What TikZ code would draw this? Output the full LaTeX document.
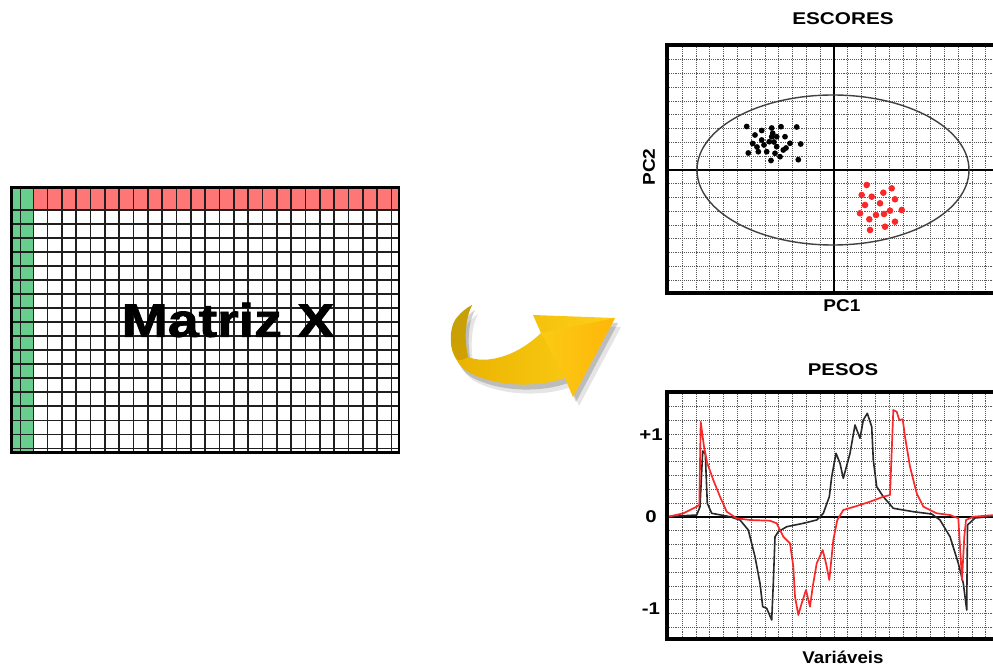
\documentclass[tikz,border=0pt]{standalone}
\usepackage{graphicx}
\usepackage{fontspec}
\setmainfont{Liberation Sans}
\definecolor{mgreen}{RGB}{104,206,142}
\definecolor{mred}{RGB}{255,118,118}
\definecolor{arrL}{RGB}{232,178,0}
\definecolor{arrR}{RGB}{255,208,24}
\definecolor{arrD}{RGB}{196,160,10}
\definecolor{cblack}{RGB}{40,40,40}
\definecolor{cred}{RGB}{250,40,40}
\newcommand{\wide}[2]{\scalebox{#1}[1]{#2}}
\begin{document}
\begin{tikzpicture}[x=1pt,y=-1pt,
  mline/.style={black!88, line width=1.6pt},
  gridln/.style={black!65, line width=0.9pt, dash pattern=on 1.1pt off 1pt},
  pframe/.style={line width=3.4pt, black},
  lbl/.style={font=\bfseries\fontsize{17}{17}\selectfont, inner sep=0pt},
]
\useasboundingbox (0,0) rectangle (993,668);
\clip (0,0) rectangle (993,668);

% ---------------- Matrix X ----------------
\fill[mgreen] (11.5,187.5) rectangle (33.3,452.5);
\fill[mred] (33.3,187.5) rectangle (399,210);
\foreach \k in {0,...,25} \draw[mline] ({33.3+14.33*\k},187.5) -- ({33.3+14.33*\k},452.5);
\draw[mline] (20.5,187.5) -- (20.5,452.5);
\foreach \k in {0,...,17} \draw[mline] (11.5,{210+14.02*\k}) -- (399,{210+14.02*\k});
\draw[line width=2.6pt] (11.5,187.5) rectangle (399,452.5);
\node[font=\bfseries\fontsize{47}{47}\selectfont\addfontfeatures{FakeBold=1.6}, inner sep=0pt] (mx) at (228,320) {\wide{1.18}{Matriz X}};

% ---------------- Curved arrow ----------------
\def\arrowpath{(472,305) .. controls (465,318) and (464,340) .. (468,357)
  .. controls (485,364) and (515,358) .. (541,333) -- (533,315) -- (615,318)
  -- (573,397) -- (565,378) .. controls (540,387) and (500,388) .. (470,373)
  .. controls (455,365) and (448,345) .. (452,335)
  .. controls (455,322) and (463,311) .. (472,305) -- cycle}
\begin{scope}[shift={(6,9)}]
  \fill[black, opacity=0.10] \arrowpath;
\end{scope}
\begin{scope}[shift={(3,5)}]
  \fill[black, opacity=0.18] \arrowpath;
\end{scope}
\shade[left color=arrL, right color=arrR] \arrowpath;
\shade[top color=arrD, bottom color=arrL!90!black] (472,305) .. controls (465,318) and (464,340) .. (468,357)
  .. controls (463,360) and (459,361) .. (457,359)
  .. controls (449,350) and (449,330) .. (455,320)
  .. controls (460,313) and (466,308) .. (472,305) -- cycle;
\shade[left color=arrR, right color=orange!70!yellow, opacity=0.6] (565,378) -- (541,333) -- (615,318) -- (573,397) -- cycle;

% ---------------- ESCORES ----------------
\begin{scope}
  \clip (667,45) rectangle (1000,293);
  \foreach \k in {-12,...,12} \draw[gridln] ({834+13.8*\k},45) -- ({834+13.8*\k},293);
  \foreach \k in {-9,...,9} \draw[gridln] (667,{170+13.78*\k}) -- (1000,{170+13.78*\k});
\end{scope}
\draw[line width=1.8pt] (834,45) -- (834,293);
\draw[line width=1.8pt] (667,170) -- (1000,170);
\draw[black!75, line width=1.4pt] (833,170) ellipse [x radius=136, y radius=75];
\foreach \p in {(746.7,126.5),(755,135),(761.7,130.5),(771.7,128),(772.7,133.3),(781,126.7),(796.7,127),
  (752.7,143.5),(761.7,140),(769.3,141.7),(776.7,136.7),(785,136.7),(790,143.3),(800.7,144),
  (748.3,153),(758.3,151.7),(766.7,151.7),(776.7,146.7),(783.3,150),(775,153.3),(771,160.5),
  (780,156.7),(798.3,159.7),(771.7,136.7),(764,145),(786,148),(774,142),(757,147)}
  \fill[black] \p circle (2.9);
\foreach \p in {(866.7,185),(891.7,188.3),(861.7,195),(871.7,196.7),(883.3,192.7),(865,205),(880,203.3),
  (895,199.3),(860,213.3),(869.3,219.3),(876,215),(884,214),(890,210.7),(901.7,210),(895,221.7),
  (870,230),(885,226.7)}
  \fill[cred] \p circle (3.3);
\draw[pframe] (1000,45) -- (667,45) -- (667,293) -- (1000,293);
\node[lbl] (escores) at (843,19) {\wide{1.22}{ESCORES}};
\node[lbl] (pc1) at (842,306) {\wide{1.12}{PC1}};
\node[lbl, rotate=90] (pc2) at (649,167) {\wide{1.12}{PC2}};

% ---------------- PESOS ----------------
\begin{scope}
  \clip (667,392) rectangle (1000,639);
  \foreach \k in {-12,...,12} \draw[gridln] ({834+13.8*\k},392) -- ({834+13.8*\k},639);
  \foreach \k in {-9,...,9} \draw[gridln] (667,{517+13.8*\k}) -- (1000,{517+13.8*\k});
\end{scope}
\draw[line width=2pt] (667,517) -- (1000,517);
\draw[cblack, line width=1.6pt, line join=round]
 (667,516.7) -- (696.7,515) -- (700,506.7) -- (702.7,451) -- (705.3,454) -- (707.3,503.3)
 -- (711.7,513.3) -- (730,516.7) -- (740,520) -- (748.3,530) -- (755,556.7) -- (760,583.3)
 -- (762.7,606.7) -- (766.7,608.3) -- (771.7,620) -- (773.3,583.3) -- (775,536.7) -- (778.3,531.7)
 -- (786.7,526.7) -- (803.3,523.3) -- (816.7,520) -- (823.3,513.3) -- (829.3,496.7) -- (831.7,476.7)
 -- (836,453.3) -- (840,463.3) -- (843.3,478.3) -- (850,453.3) -- (855,425) -- (860,438.3)
 -- (863.3,420) -- (867.3,413.3) -- (871.7,426.7) -- (873.3,460) -- (876.7,486.7) -- (883.3,496.7)
 -- (893.3,508.3) -- (913.3,511.7) -- (931.7,514) -- (940,520) -- (950,536.7) -- (958.3,563.3)
 -- (963.3,583.3) -- (966.7,610) -- (967.5,525) -- (975,518) -- (995,516);
\draw[cred, line width=1.7pt, line join=round]
 (667,517) -- (683.3,513.3) -- (696.7,506.7) -- (699.3,505) -- (700.7,421.7) -- (704,446.7)
 -- (707.3,463.3) -- (713.3,480) -- (720,496.7) -- (726.7,511.7) -- (736.7,518.3) -- (750,520)
 -- (770,520.7) -- (776.7,523.3) -- (783.3,536.7) -- (790,543.3) -- (793.3,566.7) -- (795,596.7)
 -- (798.3,615) -- (801.7,603.3) -- (806,590) -- (810,606.7) -- (812.7,586.7) -- (816.7,563.3)
 -- (822.7,550) -- (826,563.3) -- (829.3,580) -- (833.3,540) -- (837.3,520) -- (843.3,510)
 -- (856.7,506) -- (870,501.7) -- (883.3,496.7) -- (890,495) -- (893.3,410) -- (896.7,411.7)
 -- (899.3,420) -- (902.7,419.3) -- (905,436.7) -- (910,466.7) -- (916.7,493.3) -- (923.3,506.7)
 -- (936.7,513.3) -- (950,515) -- (958.3,518.3) -- (960,546.7) -- (962,580) -- (964.3,536.7)
 -- (966,520) -- (973.3,516.7) -- (995,515);
\draw[pframe] (1000,392) -- (667,392) -- (667,639) -- (1000,639);
\node[lbl] (pesos) at (843,370) {\wide{1.2}{PESOS}};
\node[lbl] (plus1) at (651,435) {\wide{1.2}{+1}};
\node[lbl] (zero) at (651,517) {\wide{1.2}{0}};
\node[lbl] (minus1) at (651,609) {\wide{1.2}{-1}};
\node[lbl] (vars) at (843,657) {\wide{1.1}{Variáveis}};
\end{tikzpicture}
\end{document}
